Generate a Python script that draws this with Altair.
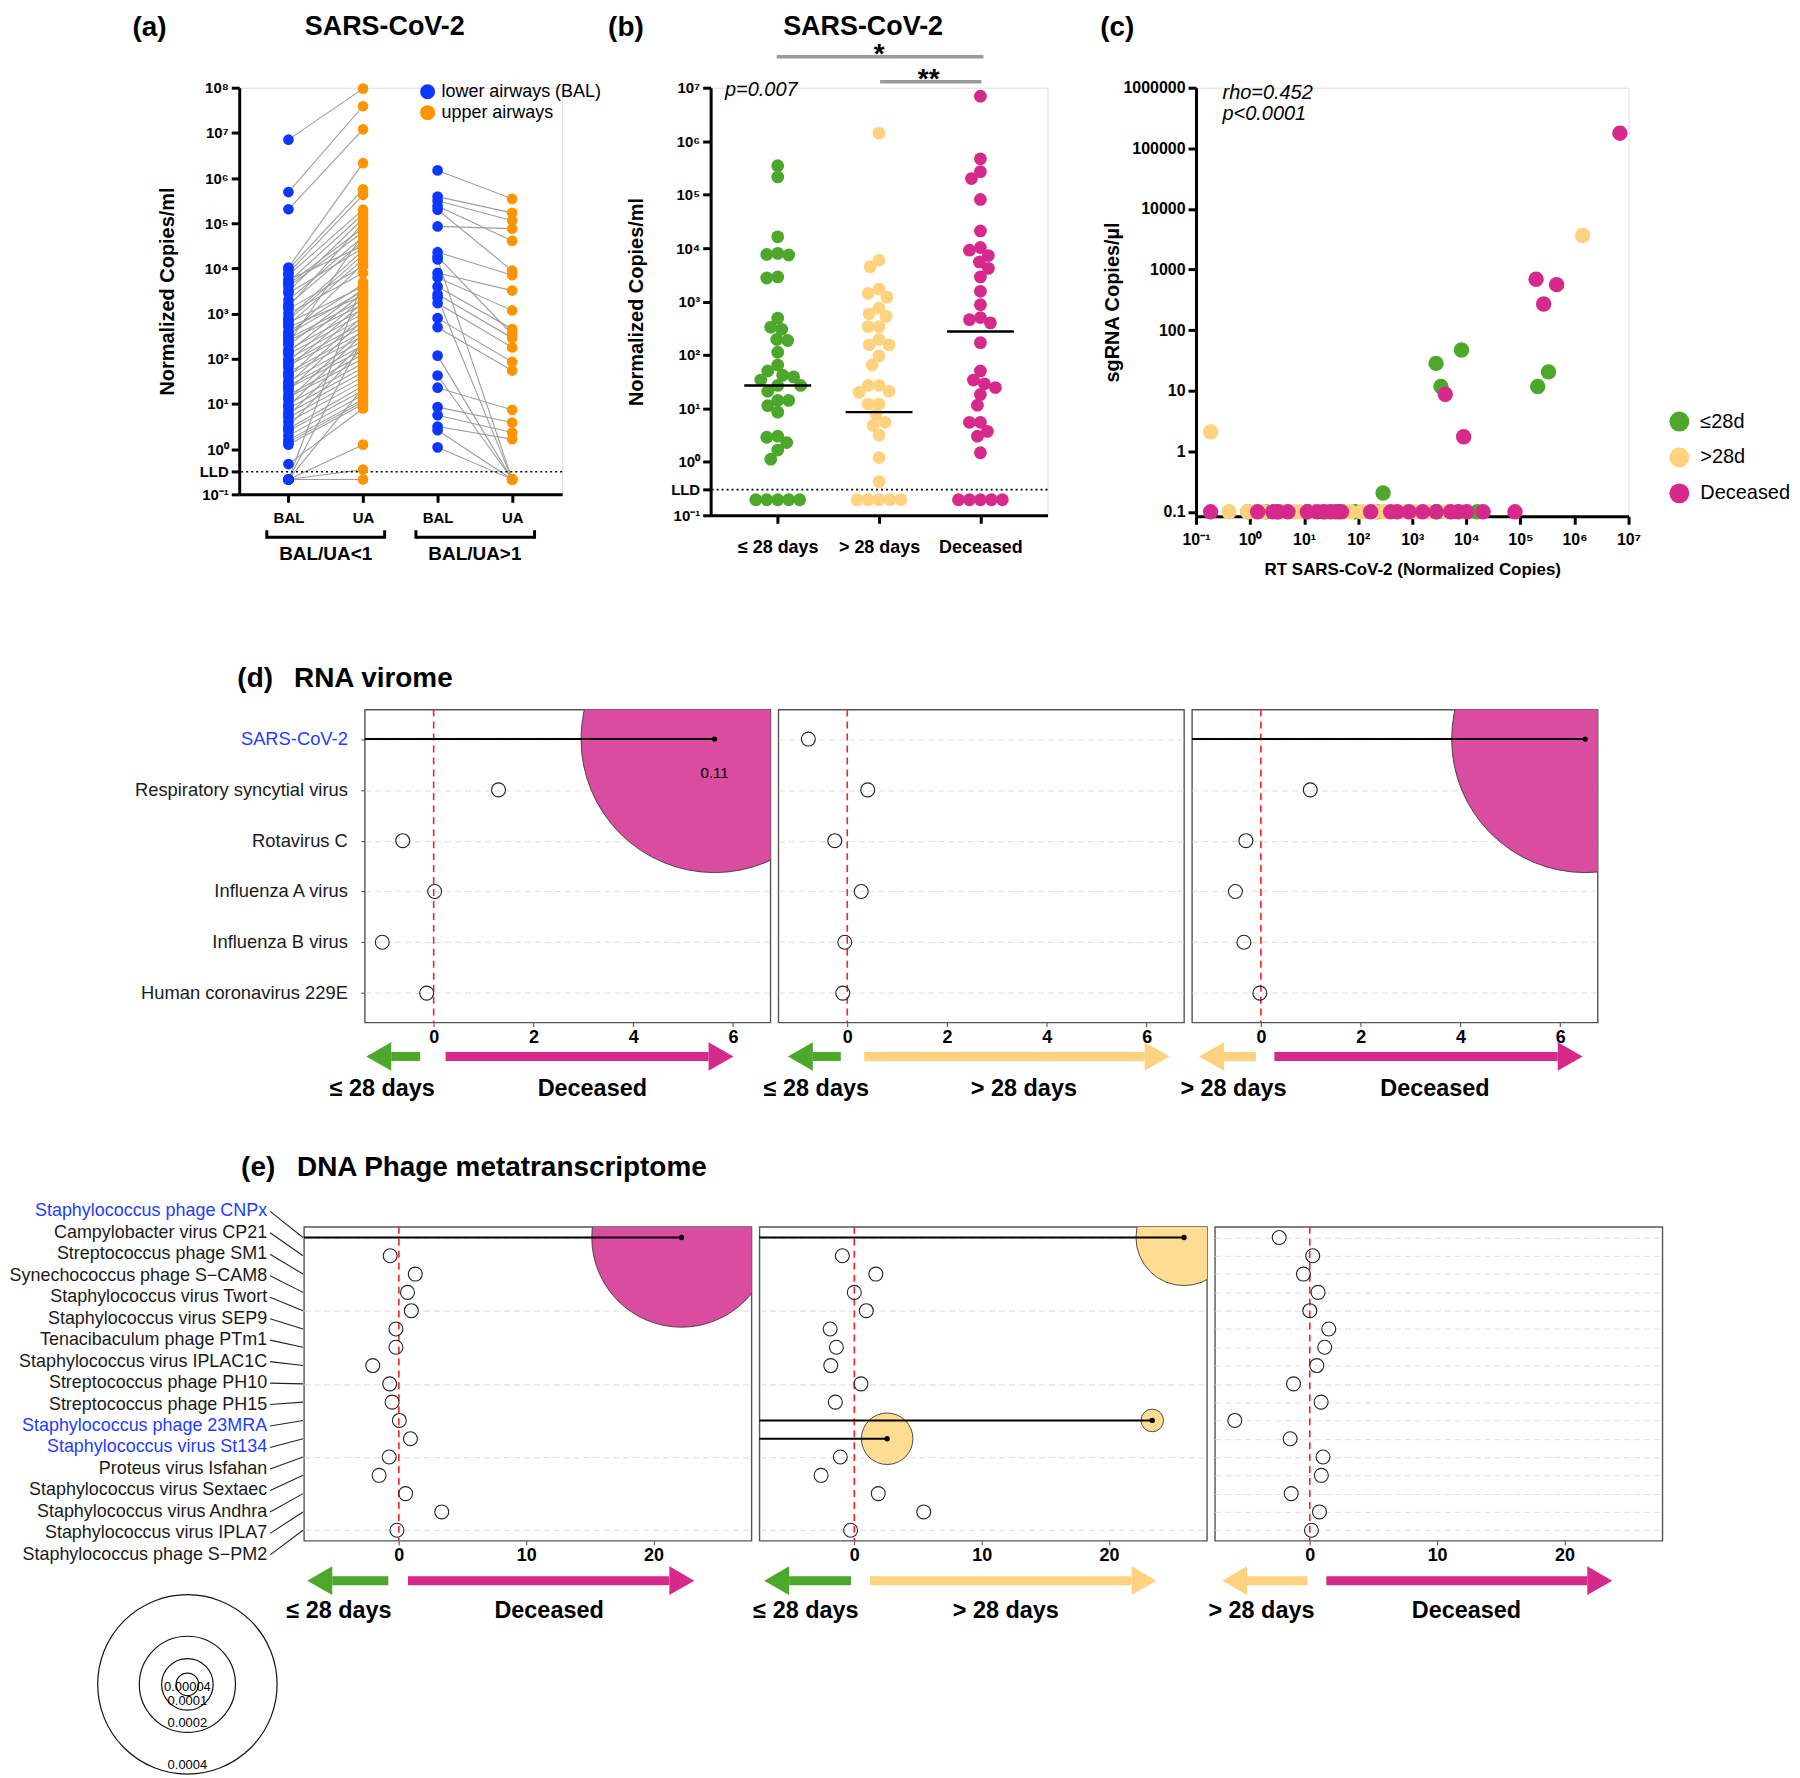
import altair as alt
import pandas as pd

FONT = "Liberation Sans, Arial, Helvetica, sans-serif"
BLUE, ORANGE = "#0b37ff", "#ff9400"
GREEN, YELLOW, MAGENTA = "#4ca72b", "#fed27e", "#d52a8c"
BUB_MAG, BUB_YEL = "#d94ca0", "#fedc91"
LBL_BLUE = "#1f3cff"

# ---------------- (a) paired BAL -> UA, log10 normalized copies/ml ----------------
a_sites = ["lower airways (BAL)", "upper airways"]
a_tick_labels = ["BAL", "UA", "BAL", "UA"]
a_groups = ["BAL/UA<1", "BAL/UA>1"]
a_lo_bal = [6.85, 5.69, 5.31, 4.02, 3.98, 3.90, 3.85, 3.75, 3.70, 3.65, 3.60, 3.50, 3.45, 3.30, 3.20,
            3.15, 3.10, 3.00, 2.90, 2.85, 2.80, 2.75, 2.70, 2.60, 2.55, 2.50, 2.45, 2.40, 2.35, 2.30,
            2.20, 2.15, 2.10, 2.00, 1.95, 1.90, 1.85, 1.80, 1.70, 1.65, 1.60, 1.50, 1.45, 1.40, 1.35,
            1.30, 1.20, 1.15, 1.10, 1.00, 0.95, 0.90, 0.80, 0.75, 0.70, 0.60, 0.50, 0.45, 0.40, 0.30,
            0.20, 0.15, 0.10, -0.33, -0.67, -0.67, -0.67, -0.67, -0.67, -0.67]
a_lo_ua = [7.98, 7.59, 7.08, 6.33, 5.75, 5.63, 5.30, 4.50, 5.20, 4.90, 4.80, 5.10, 4.45, 4.70, 4.60,
           5.00, 4.05, 3.90, 4.40, 4.30, 3.60, 4.20, 3.40, 3.65, 3.50, 4.10, 3.30, 3.20, 4.75, 3.55,
           3.10, 3.45, 3.00, 2.90, 3.35, 2.80, 2.70, 3.25, 2.60, 2.50, 3.15, 2.40, 2.95, 2.30, 2.20,
           2.85, 2.10, 2.00, 2.65, 1.90, 2.55, 1.80, 1.70, 2.35, 1.60, 1.50, 2.25, 1.40, 1.30, 1.20,
           1.10, 1.05, 1.00, 0.90, 2.45, 0.10, 3.70, -0.45, -0.67, 1.35]
a_hi_bal = [6.17, 5.59, 5.50, 5.38, 5.30, 4.93, 4.36, 4.26, 4.20, 3.90, 3.80, 3.60, 3.43, 3.35, 3.23,
            2.90, 2.70, 2.07, 1.63, 1.36, 0.93, 0.75, 0.50, 0.42, 0.04]
a_hi_ua = [5.54, 5.23, 5.06, 4.61, 3.95, 4.88, 3.85, 2.54, -0.67, 3.51, 3.07, 2.66, 2.46, -0.67, 2.25,
           1.93, 1.74, -0.67, -0.67, 0.87, 0.59, 0.37, 0.22, -0.67, -0.67]
a_lld_exp = -0.5

# ---------------- (b) log10 normalized copies/ml by outcome ----------------
b_groups = ["≤ 28 days", "> 28 days", "Deceased"]
b_le28 = [5.54, 5.33, 4.21, 3.90, 3.88, 3.87, 3.46, 3.44, 2.69, 2.52, 2.48, 2.29, 2.27, 2.05, 1.81,
          1.70, 1.62, 1.59, 1.53, 1.43, 1.43, 1.32, 1.15, 1.15, 1.05, 0.93, 0.48, 0.46, 0.36, 0.22,
          0.05, -0.71, -0.71, -0.71, -0.71, -0.71]
b_gt28 = [6.15, 3.77, 3.65, 3.23, 3.15, 3.08, 2.88, 2.77, 2.72, 2.53, 2.53, 2.29, 2.19, 2.19, 1.98,
          1.81, 1.43, 1.43, 1.32, 1.30, 1.08, 1.08, 0.88, 0.74, 0.68, 0.50, 0.08, -0.37, -0.71, -0.71,
          -0.71, -0.71, -0.71]
b_dec = [6.84, 5.67, 5.43, 5.30, 4.91, 4.32, 4.01, 3.96, 3.86, 3.74, 3.62, 3.46, 3.19, 2.94, 2.70,
         2.66, 2.60, 2.23, 1.70, 1.53, 1.46, 1.39, 1.26, 1.06, 0.74, 0.74, 0.57, 0.48, 0.17, -0.71,
         -0.71, -0.71, -0.71, -0.71]
b_medians = [1.43, 0.93, 2.44]
b_lld_exp = -0.52
b_p_text = "p=0.007"
b_stars = ["*", "**"]

# ---------------- (c) sgRNA vs RT (log10) ----------------
c_groups = ["≤28d", ">28d", "Deceased"]
c_le28_x = [3.91, 3.44, 3.53, 5.52, 5.32, 2.46, -0.04, 0.29, 0.50, 1.06, 1.40, 1.57, 1.94, 2.35, 3.46, 4.20]
c_le28_y = [1.67, 1.45, 1.07, 1.31, 1.07, -0.69, -1, -1, -1, -1, -1, -1, -1, -1, -1, -1]
c_gt28_x = [6.15, -0.73, -0.39, -0.04, 0.09, 0.25, 0.58, 0.83, 0.91, 1.16, 1.40, 1.73, 1.86, 2.06,
            2.31, 2.47, 2.88, 3.05, 3.30, 3.63, 3.95]
c_gt28_y = [3.56, 0.32, -1, -1, -1, -1, -1, -1, -1, -1, -1, -1, -1, -1, -1, -1, -1, -1, -1, -1, -1]
c_dec_x = [6.84, 5.29, 5.67, 5.43, 3.61, 3.95, -0.73, 0.14, 0.42, 0.52, 0.70, 1.06, 1.24, 1.36, 1.49,
           1.63, 1.69, 2.23, 2.60, 2.72, 2.94, 3.19, 3.44, 3.71, 3.85, 4.01, 4.31, 4.90]
c_dec_y = [5.25, 2.84, 2.75, 2.43, 0.94, 0.24, -1, -1, -1, -1, -1, -1, -1, -1, -1, -1, -1, -1, -1, -1,
           -1, -1, -1, -1, -1, -1, -1, -1]
c_rho = "rho=0.452"
c_p = "p<0.0001"

# ---------------- (d) RNA virome ----------------
d_names = ["SARS-CoV-2", "Respiratory syncytial virus", "Rotavirus C", "Influenza A virus",
           "Influenza B virus", "Human coronavirus 229E"]
d_blue = ["SARS-CoV-2"]
d1_x = [5.63, 1.30, -0.62, 0.02, -1.03, -0.14]
d1_ab = [0.11, None, None, None, None, None]
d2_x = [-0.78, 0.41, -0.25, 0.28, -0.05, -0.09]
d2_ab = [None, None, None, None, None, None]
d3_x = [6.50, 0.99, -0.30, -0.51, -0.34, -0.02]
d3_ab = [0.11, None, None, None, None, None]

# ---------------- (e) DNA phage metatranscriptome ----------------
e_names = ["Staphylococcus phage CNPx", "Campylobacter virus CP21", "Streptococcus phage SM1",
           "Synechococcus phage S\u2212CAM8", "Staphylococcus virus Twort", "Staphylococcus virus SEP9",
           "Tenacibaculum phage PTm1", "Staphylococcus virus IPLAC1C", "Streptococcus phage PH10",
           "Streptococcus phage PH15", "Staphylococcus phage 23MRA", "Staphylococcus virus St134",
           "Proteus virus Isfahan", "Staphylococcus virus Sextaec", "Staphylococcus virus Andhra",
           "Staphylococcus virus IPLA7", "Staphylococcus phage S\u2212PM2"]
e_blue = ["Staphylococcus phage CNPx", "Staphylococcus phage 23MRA", "Staphylococcus virus St134"]
e1_x = [22.2, -0.68, 1.29, 0.68, 0.98, -0.23, -0.23, -2.05, -0.72, -0.53, 0.04, 0.91, -0.76, -1.55, 0.53, 3.37, -0.15]
e1_ab = [0.0004] + [None] * 16
e2_x = [25.9, -0.94, 1.69, 0.0, 0.94, -1.90, -1.41, -1.85, 0.52, -1.49, 23.4, 2.58, -1.10, -2.61, 1.88, 5.45, -0.29]
e2_ab = [0.0002, None, None, None, None, None, None, None, None, None, 0.00004, 0.0001, None, None, None, None, None]
e3_x = [-2.40, 0.23, -0.50, 0.65, 0.0, 1.49, 1.17, 0.55, -1.28, 0.89, -5.89, -1.54, 1.04, 0.91, -1.46, 0.76, 0.13]
e3_ab = [None] * 17
e_legend_vals = [0.0004, 0.0002, 0.0001, 0.00004]
e_legend_txt = ["0.0004", "0.0002", "0.0001", "0.00004"]

GROUP_COLOR = {"≤ 28 days": GREEN, "> 28 days": YELLOW, "Deceased": MAGENTA}

# ---------------- helpers ----------------
SUP = ("['\u207b\u00b9','\u2070','\u00b9','\u00b2','\u00b3','\u2074','\u2075','\u2076','\u2077','\u2078']"
       "[round(log(datum.value)/LN10)+1]")
POW_EXPR = "'10' + " + SUP
LLD_EXPR = "datum.value > 0.2 && datum.value < 0.5 ? 'LLD' : " + POW_EXPR
NOVIEW = alt.ViewBackground(strokeOpacity=0, fillOpacity=0, strokeWidth=0)


def log_axis(title, values, expr, title_x, label_size=15):
    return alt.Axis(values=values, labelExpr=expr, title=title, titleX=title_x, grid=False,
                    domainWidth=3, domainColor="black", tickWidth=3, tickSize=8, tickColor="black",
                    labelFontSize=label_size, labelFontWeight="bold", labelFont=FONT, labelColor="black",
                    labelOverlap=False, labelPadding=3, labelFlush=False,
                    titleFontSize=20, titleFontWeight="bold", titleFont=FONT, titleColor="black")


def cat_axis(values, expr, size, pad=8):
    return alt.Axis(values=values, labelExpr=expr, title=None, grid=False, domainWidth=3,
                    domainColor="black", tickWidth=3, tickSize=8, tickColor="black",
                    labelFontSize=size, labelFontWeight="bold", labelFont=FONT, labelColor="black",
                    labelPadding=pad, labelFlush=False, labelOverlap=False)


def ann(text, x, y, size, weight="bold", align="center", style="normal"):
    return alt.Chart(pd.DataFrame({"t": [text]})).mark_text(
        font=FONT, fontSize=size, fontWeight=weight, fontStyle=style, align=align,
        baseline="alphabetic", color="black").encode(x=alt.value(x), y=alt.value(y), text="t:N")


def marker(top, bottom, left=-231, right=0):
    # invisible box fixing the extent of a figure row
    return alt.Chart(pd.DataFrame({"z": [0]})).mark_rect(opacity=0, strokeWidth=0).encode(
        x=alt.value(left), x2=alt.value(right), y=alt.value(top), y2=alt.value(bottom))


# ================= panel (a) =================
W_A, H_A = 324, 408
rows = []
for k, (b, u) in enumerate(zip(a_lo_bal, a_lo_ua)):
    rows.append({"pair": f"lo{k}", "pos": 0, "site": a_sites[0], "v": 10 ** b})
    rows.append({"pair": f"lo{k}", "pos": 1, "site": a_sites[1], "v": 10 ** u})
for k, (b, u) in enumerate(zip(a_hi_bal, a_hi_ua)):
    rows.append({"pair": f"hi{k}", "pos": 2, "site": a_sites[0], "v": 10 ** b})
    rows.append({"pair": f"hi{k}", "pos": 3, "site": a_sites[1], "v": 10 ** u})
dfa = pd.DataFrame(rows)

xa = alt.X("pos:Q", scale=alt.Scale(domain=[-0.66, 3.67], nice=False, zero=False),
           axis=cat_axis([0, 1, 2, 3], "['BAL','UA','BAL','UA'][datum.value]", 15))
ya = alt.Y("v:Q", scale=alt.Scale(type="log", domain=[0.1, 1e8], nice=False),
           axis=log_axis("Normalized Copies/ml", [0.1, 10 ** a_lld_exp] + [10 ** k for k in range(0, 9)],
                         LLD_EXPR, -62))
a_lines = alt.Chart(dfa).mark_line(color="#9d9d9d", strokeWidth=1.1).encode(x=xa, y=ya, detail="pair:N")
a_pts = alt.Chart(dfa).mark_circle(size=115, opacity=1).encode(
    x="pos:Q", y="v:Q",
    color=alt.Color("site:N", scale=alt.Scale(domain=a_sites, range=[BLUE, ORANGE]),
                    legend=alt.Legend(orient="none", legendX=180, legendY=-5, title=None,
                                      labelFontSize=18, labelFont=FONT, labelColor="black",
                                      labelLimit=0, symbolSize=225, symbolType="circle", rowPadding=3,
                                      labelOffset=5, padding=0, symbolOpacity=1)))
a_lld = alt.Chart(pd.DataFrame({"v": [10 ** a_lld_exp]})).mark_rule(
    strokeDash=[2, 3], color="black", strokeWidth=1.6).encode(y="v:Q")
brk = pd.DataFrame({"x0": [-0.29, 1.71], "x1": [1.29, 3.30], "xc": [0.5, 2.5], "t": a_groups})
a_brk = alt.Chart(brk).mark_rule(strokeWidth=3, color="black").encode(
    x="x0:Q", x2="x1:Q", y=alt.value(H_A + 43))
a_brk_end = alt.Chart(brk).transform_fold(["x0", "x1"], as_=["k", "xe"]).mark_rule(
    strokeWidth=3, color="black").encode(x="xe:Q", y=alt.value(H_A + 36), y2=alt.value(H_A + 44.5))
a_brk_t = alt.Chart(brk).mark_text(font=FONT, fontSize=19, fontWeight="bold", color="black").encode(
    x="xc:Q", y=alt.value(H_A + 60), text="t:N")
panel_a = alt.layer(marker(-76, 556), a_lines, a_lld, a_pts, a_brk, a_brk_end, a_brk_t,
                    ann("(a)", -90, -52, 28), ann("SARS-CoV-2", 146, -53, 27)
                    ).properties(width=W_A, height=H_A)

# ================= panel (b) =================
W_B, H_B = 338, 429
B_DOM = [-0.662, 2.662]
px_unit = W_B / (B_DOM[1] - B_DOM[0])
px_dec = H_B / 8.0


def swarm(exps, dmin=11.0):
    placed, out = [], []
    cands = sorted(range(-80, 81), key=lambda k: (abs(k), k))
    for e in exps:
        y = e * px_dec
        chosen = 0
        for k in cands:
            if all((k - px) ** 2 + (y - py) ** 2 >= dmin ** 2 for px, py in placed):
                chosen = k
                break
        placed.append((chosen, y))
        out.append(chosen)
    return out


rows = []
for g, (name, vals) in enumerate(zip(b_groups, [b_le28, b_gt28, b_dec])):
    for e, dx in zip(vals, swarm(vals)):
        rows.append({"grp": name, "x": g + dx / px_unit, "v": 10 ** e})
dfb = pd.DataFrame(rows)
dfm = pd.DataFrame({"x0": [g - 0.33 for g in range(3)], "x1": [g + 0.33 for g in range(3)],
                    "v": [10 ** m for m in b_medians]})

xb = alt.X("x:Q", scale=alt.Scale(domain=B_DOM, nice=False, zero=False),
           axis=cat_axis([0, 1, 2], "['\u2264 28 days','> 28 days','Deceased'][datum.value]", 18, 15))
yb = alt.Y("v:Q", scale=alt.Scale(type="log", domain=[0.1, 1e7], nice=False),
           axis=log_axis("Normalized Copies/ml", [0.1, 10 ** b_lld_exp] + [10 ** k for k in range(0, 8)],
                         LLD_EXPR, -64))
b_pts = alt.Chart(dfb).mark_circle(size=165, opacity=1).encode(
    x=xb, y=yb, color=alt.Color("grp:N", scale=alt.Scale(domain=b_groups, range=[GREEN, YELLOW, MAGENTA]),
                                legend=None))
b_med = alt.Chart(dfm).mark_rule(color="black", strokeWidth=2.5).encode(x="x0:Q", x2="x1:Q", y="v:Q")
b_lld = alt.Chart(pd.DataFrame({"v": [10 ** b_lld_exp]})).mark_rule(
    strokeDash=[2, 3], color="black", strokeWidth=1.6).encode(y="v:Q")
sig_df = pd.DataFrame({"x0": [-0.01, 1.01], "x1": [2.03, 2.01], "v": [10 ** 7.58, 10 ** 7.11],
                       "star": b_stars, "xs": [1.0, 1.49], "vs": [10 ** 7.72, 10 ** 7.25]})
b_sig = alt.Chart(sig_df).mark_rule(color="#9a9a9a", strokeWidth=3.5).encode(x="x0:Q", x2="x1:Q", y="v:Q")
b_star = alt.Chart(sig_df).mark_text(font=FONT, fontSize=28, fontWeight="bold", baseline="top",
                                     dy=-8, color="black").encode(x="xs:Q", y="vs:Q", text="star:N")
b_p = alt.Chart(pd.DataFrame({"x": [-0.52], "v": [10 ** 6.95], "t": [b_p_text]})).mark_text(
    font=FONT, fontSize=20, fontStyle="italic", align="left", baseline="middle", color="black").encode(
    x="x:Q", y="v:Q", text="t:N")
panel_b = alt.layer(b_lld, b_pts, b_med, b_sig, b_star, b_p,
                    ann("(b)", -85, -52, 28), ann("SARS-CoV-2", 153, -53, 27)
                    ).properties(width=W_B, height=H_B)

# ================= panel (c) =================
W_C, H_C = 434, 430
rows = []
for name, xs, ys in zip(c_groups, [c_le28_x, c_gt28_x, c_dec_x], [c_le28_y, c_gt28_y, c_dec_y]):
    for xe, ye in zip(xs, ys):
        rows.append({"grp": name, "x": 10 ** xe, "y": 10 ** ye})
dfc = pd.DataFrame(rows)
xc = alt.X("x:Q", scale=alt.Scale(type="log", domain=[0.1, 1e7], nice=False),
           axis=alt.Axis(values=[10 ** k for k in range(-1, 8)], labelExpr=POW_EXPR,
                         title="RT SARS-CoV-2 (Normalized Copies)", grid=False, domainWidth=3,
                         domainColor="black", tickWidth=3, tickSize=8, tickColor="black",
                         labelFontSize=16, labelFontWeight="bold", labelFont=FONT, labelColor="black",
                         labelPadding=7, labelFlush=False, labelOverlap=False, titleFontSize=17,
                         titleFontWeight="bold", titleFont=FONT, titleColor="black", titlePadding=14))
yc = alt.Y("y:Q", scale=alt.Scale(type="log", domain=[0.0845, 1e6], nice=False),
           axis=log_axis("sgRNA Copies/\u00b5l", [10 ** k for k in range(-1, 7)],
                         "datum.value < 0.5 ? '0.1' : format(datum.value, 'd')", -74, 16))
c_pts = alt.Chart(dfc).mark_circle(size=240, opacity=1).encode(
    x=xc, y=yc,
    color=alt.Color("grp:N", scale=alt.Scale(domain=c_groups, range=[GREEN, YELLOW, MAGENTA]),
                    legend=alt.Legend(orient="none", legendX=474, legendY=324, title=None,
                                      labelFontSize=20, labelFont=FONT, labelColor="black",
                                      symbolSize=400, symbolType="circle", rowPadding=15,
                                      labelOffset=10, padding=0, symbolOpacity=1)))
c_txt = alt.Chart(pd.DataFrame({"x": [10 ** -0.51, 10 ** -0.51], "y": [10 ** 5.91, 10 ** 5.56],
                                "t": [c_rho, c_p]})).mark_text(
    font=FONT, fontSize=20, fontStyle="italic", align="left", baseline="middle", color="black").encode(
    x="x:Q", y="y:Q", text="t:N")
panel_c = alt.layer(c_pts, c_txt, ann("(c)", -79, -52, 28)).properties(width=W_C, height=H_C)

# ================= lollipop panels (d), (e) =================
HEAD_R = "M0,-1.15L2,0L0,1.15Z"
HEAD_L = "M0,-1.15L-2,0L0,1.15Z"


def lolli(names, blue, xs, abund, dom_x, ticks, W, H, bub_col, size_scale, arrows, arr_dy, lab_dy,
          labels=False, leader=False, heading=None, value_lab=False, legend=None):
    n = len(names)
    df = pd.DataFrame({"i": list(range(n)), "name": names, "x": xs,
                       "ab": [a if a is not None else float("nan") for a in abund]})
    df["blue"] = [1 if nm in blue else 0 for nm in names]
    df["x0"] = dom_x[0]
    df["lab"] = [f"{a:g}" if a is not None else "" for a in abund]
    sig = df[df["ab"].notna()]
    ns = df[df["ab"].isna()]
    xsc = alt.Scale(domain=dom_x, nice=False, zero=False)
    ysc = alt.Scale(domain=[-0.58, n - 1 + 0.58], reverse=True, nice=False, zero=False)
    xax = alt.Axis(values=ticks, title=None, grid=False, domain=False, ticks=True, tickSize=4,
                   tickColor="#444", labelFont=FONT, labelFontSize=18, labelFontWeight="bold",
                   labelColor="black", labelPadding=2, labelFlush=False, format="d")
    yax = alt.Axis(values=list(range(n)), title=None, labels=False, ticks=(labels and not leader),
                   tickSize=4, tickColor="#444", domain=False, grid=True, gridDash=[6, 4],
                   gridColor="#e3e3e3", gridWidth=1.2)
    X = alt.X("x:Q", scale=xsc, axis=xax)
    Y = alt.Y("i:Q", scale=ysc, axis=yax)
    layers = [alt.Chart(pd.DataFrame({"x": [0]})).mark_rule(
        color="#ff1f1f", strokeDash=[7, 5], strokeWidth=1.6).encode(x=X)]
    if len(sig):
        layers.append(alt.Chart(sig).mark_circle(clip=True, opacity=1, color=bub_col, stroke="#3a3a3a",
                                                 strokeWidth=0.9).encode(
            x="x:Q", y=Y, size=alt.Size("ab:Q", scale=size_scale, legend=None)))
    layers.append(alt.Chart(ns).mark_point(shape="circle", filled=False, size=196, color="#222",
                                           strokeWidth=1.1, opacity=1).encode(x="x:Q", y=Y))
    if len(sig):
        layers.append(alt.Chart(sig).mark_rule(color="black", strokeWidth=2).encode(
            x="x0:Q", x2="x:Q", y="i:Q"))
        layers.append(alt.Chart(sig).mark_circle(color="black", size=28, opacity=1).encode(x="x:Q", y="i:Q"))
        if value_lab:
            layers.append(alt.Chart(sig).mark_text(font=FONT, fontSize=15, dy=34, color="black").encode(
                x="x:Q", y="i:Q", text="lab:N"))
    if labels:
        col = alt.condition("datum.blue == 1", alt.value(LBL_BLUE), alt.value("#1a1a1a"))
        if leader:
            t = alt.Chart(df).transform_calculate(lp="datum.i * 1.1735 - 1.43")
            layers.append(t.mark_rule(color="#222", strokeWidth=1.1).encode(
                x=alt.value(-34), x2=alt.value(-1), y="lp:Q", y2="i:Q"))
            layers.append(t.mark_text(align="right", baseline="middle", font=FONT, fontSize=18).encode(
                x=alt.value(-37), y="lp:Q", text="name:N", color=col))
        else:
            layers.append(alt.Chart(df).mark_text(align="right", baseline="middle", font=FONT,
                                                  fontSize=18.4).encode(
                x=alt.value(-17), y="i:Q", text="name:N", color=col))
    adf = pd.DataFrame(arrows)
    layers.append(alt.Chart(adf).mark_rule(strokeWidth=9).encode(
        x="x0:Q", x2="x1:Q", y=alt.value(H + arr_dy), color=alt.Color("col:N", scale=None)))
    for side, shp in (("R", HEAD_R), ("L", HEAD_L)):
        layers.append(alt.Chart(adf[adf["side"] == side]).mark_point(
            shape=shp, filled=True, size=625, opacity=1, strokeWidth=0).encode(
            x="x1:Q", y=alt.value(H + arr_dy), color=alt.Color("col:N", scale=None)))
    layers.append(alt.Chart(adf).mark_text(font=FONT, fontSize=23.5, fontWeight="bold",
                                           baseline="middle", color="black").encode(
        x="xc:Q", y=alt.value(H + lab_dy), text="t:N"))
    if heading:
        for txt, hx, hy, al in heading:
            layers.append(ann(txt, hx, hy, 28, align=al))
    main = alt.layer(*layers)
    if legend is not None:
        LX, LY = -117, 459
        ldf = pd.DataFrame({"ab": legend[0], "txt": legend[1]})
        lc = alt.Chart(ldf).mark_point(shape="circle", filled=False, color="#111", strokeWidth=1.2,
                                       opacity=1).encode(
            x=alt.value(LX), y=alt.value(LY), size=alt.Size("ab:Q", scale=size_scale, legend=None))
        lt = alt.Chart(ldf).mark_text(font=FONT, fontSize=13, baseline="bottom", dy=-2,
                                      color="black").encode(
            x=alt.value(LX),
            y=alt.Y("ab:Q", scale=alt.Scale(type="pow", exponent=0.9, domain=[0, 0.0004],
                                            range=[LY, LY + 90], nice=False, zero=False), axis=None),
            text="txt:N")
        main = alt.layer(main, alt.layer(lc, lt)).resolve_scale(y="independent")
    return main.properties(width=W, height=H, view=alt.ViewBackground(stroke="#555555", strokeWidth=1.4))


def arrows_for(pair, geo):
    (l0, l1, lc), (r0, r1, rc) = geo
    return [{"x0": l0, "x1": l1, "xc": lc, "side": "L", "col": GROUP_COLOR[pair[0]], "t": pair[0]},
            {"x0": r0, "x1": r1, "xc": rc, "side": "R", "col": GROUP_COLOR[pair[1]], "t": pair[1]}]


# symbol size = (diameter)^2 in Vega, so ranges hold (2r)^2
W_D, H_D = 407, 314
D_DOM = [-1.38, 6.75]
D_SIZE = alt.Scale(type="pow", exponent=1.8, domain=[0, 0.11], range=[0, 71800])
d1 = lolli(d_names, d_blue, d1_x, d1_ab, D_DOM, [0, 2, 4, 6], W_D, H_D, BUB_MAG, D_SIZE,
           arrows_for(("≤ 28 days", "Deceased"), ((-0.27, -0.85, -1.03), (0.24, 5.51, 3.18))), 34, 67,
           labels=True, value_lab=True,
           heading=[("(d)", -110, -23, "center"), ("RNA virome", -71, -23, "left")])
d2 = lolli(d_names, d_blue, d2_x, d2_ab, D_DOM, [0, 2, 4, 6], W_D, H_D, BUB_YEL, D_SIZE,
           arrows_for(("≤ 28 days", "> 28 days"), ((-0.13, -0.69, -0.62), (0.34, 5.96, 3.54))), 34, 67)
d3 = lolli(d_names, d_blue, d3_x, d3_ab, D_DOM, [0, 2, 4, 6], W_D, H_D, BUB_MAG, D_SIZE,
           arrows_for(("> 28 days", "Deceased"), ((-0.10, -0.74, -0.55), (0.27, 5.95, 3.49))), 34, 67)

W_E, H_E = 449, 315
E_DOM = [-7.45, 27.7]
E_SIZE = alt.Scale(type="pow", exponent=1.8, domain=[0, 0.0004], range=[0, 32400])
e1 = lolli(e_names, e_blue, e1_x, e1_ab, E_DOM, [0, 10, 20], W_E, H_E, BUB_MAG, E_SIZE,
           arrows_for(("≤ 28 days", "Deceased"), ((-0.83, -5.23, -4.7), (0.72, 21.25, 11.8))), 40, 70,
           labels=True, leader=True,
           heading=[("(e)", -46, -51, "center"), ("DNA Phage metatranscriptome", -7, -51, "left")],
           legend=(e_legend_vals, e_legend_txt))
e2 = lolli(e_names, e_blue, e2_x, e2_ab, E_DOM, [0, 10, 20], W_E, H_E, BUB_YEL, E_SIZE,
           arrows_for(("≤ 28 days", "> 28 days"), ((-0.26, -5.12, -3.8), (1.23, 21.78, 11.9))), 40, 70)
e3 = lolli(e_names, e_blue, e3_x, e3_ab, E_DOM, [0, 10, 20], W_E, H_E, BUB_MAG, E_SIZE,
           arrows_for(("> 28 days", "Deceased"), ((-0.18, -4.92, -3.8), (1.30, 21.8, 12.3))), 40, 70)

sp_d = marker(-67, 423).properties(width=118, height=1, view=NOVIEW)
sp_e = marker(-96, 540).properties(width=57, height=1, view=NOVIEW)

IND = dict(color="independent", size="independent")
row1 = alt.hconcat(panel_a, panel_b, panel_c, spacing=149, bounds="flush").resolve_scale(**IND)
row2 = alt.hconcat(sp_d, d1, d2, d3, spacing=8, bounds="flush").resolve_scale(**IND)
row3 = alt.hconcat(sp_e, e1, e2, e3, spacing=8, bounds="flush").resolve_scale(**IND)

chart = alt.vconcat(row1, row2, row3, spacing=0).resolve_scale(**IND).properties(
    padding={"left": 0, "top": 0, "right": 0, "bottom": 0}
).configure_view(strokeWidth=0).configure(font=FONT)

chart.save("out.html", embed_options={"renderer": "svg", "actions": False})
